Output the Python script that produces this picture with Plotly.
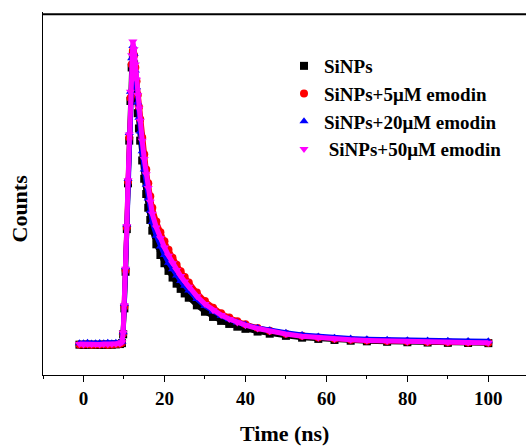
import plotly.graph_objects as go

time_ns = [-1, 0, 1, 2, 3, 4, 5, 6, 7, 8, 9, 9.5,
           9.8, 10.1, 10.4, 10.7, 11.0, 11.3, 11.6, 11.9,
           12.2, 12.5, 12.8, 13.1, 13.4, 13.7, 14.0,
           14.5, 15.0, 15.5, 16.0, 16.5, 17.0,
           18, 19, 20, 21, 22, 23, 24, 25, 26,
           28, 30, 32, 34, 36, 38, 40,
           43, 46, 50, 54, 58, 62, 66, 70,
           75, 80, 85, 90, 95, 100]

sinps = [10, 0, 15, 5, 10, 0, 15, 5, 10, 20, 30, 60,
         350, 1200, 2400, 3800, 5300, 6700, 8000, 9100,
         9500, 9200, 8650, 8100, 7600, 7100, 6700,
         6050, 5450, 4950, 4500, 4100, 3750,
         3300, 2950, 2680, 2430, 2210, 2010, 1840, 1690, 1550,
         1300, 1090, 920, 790, 690, 600, 530,
         440, 370, 300, 240, 200, 165, 140, 120,
         105, 90, 80, 70, 65, 60]

emodin_5 = [20, 15, 25, 10, 20, 15, 25, 10, 20, 30, 40, 70,
            380, 1250, 2450, 3850, 5350, 6800, 8100, 9200,
            9650, 9500, 9100, 8650, 8200, 7800, 7400,
            6800, 6250, 5750, 5300, 4880, 4500,
            4050, 3700, 3400, 3120, 2860, 2630, 2420, 2230, 2050,
            1720, 1440, 1220, 1040, 900, 780, 680,
            560, 470, 370, 300, 245, 205, 175, 150,
            130, 112, 100, 90, 82, 75]

emodin_20 = [60, 55, 70, 50, 60, 65, 55, 70, 60, 70, 80, 110,
             420, 1350, 2550, 3950, 5450, 6950, 8300, 9400,
             9800, 9550, 9000, 8450, 7950, 7450, 7000,
             6350, 5750, 5250, 4800, 4400, 4030,
             3580, 3230, 2950, 2700, 2480, 2280, 2100, 1940, 1790,
             1510, 1280, 1100, 960, 840, 740, 660,
             560, 480, 400, 330, 280, 240, 210, 190,
             170, 155, 145, 135, 130, 125]

emodin_50 = [30, 20, 35, 25, 30, 20, 35, 25, 30, 40, 50, 90,
             400, 1300, 2500, 3900, 5400, 6900, 8300, 9500,
             9950, 9700, 9200, 8700, 8200, 7750, 7350,
             6700, 6100, 5600, 5150, 4700, 4300,
             3850, 3500, 3200, 2930, 2680, 2460, 2260, 2080, 1910,
             1600, 1340, 1140, 980, 850, 740, 650,
             540, 450, 360, 290, 240, 200, 170, 150,
             130, 110, 100, 90, 80, 75]

series_names = ["SiNPs", "SiNPs+5μM emodin", "SiNPs+20μM emodin", "\u00a0SiNPs+50μM emodin"]
series_values = [sinps, emodin_5, emodin_20, emodin_50]
colors = ["#000000", "#ff0000", "#0000ff", "#ff00ff"]
symbols = ["square", "circle", "triangle-up", "triangle-down"]

x_ticks = [0, 20, 40, 60, 80, 100]

for s in series_values:
    assert len(s) == len(time_ns)

fig = go.Figure()
for name, vals, c, sym in zip(series_names, series_values, colors, symbols):
    fig.add_trace(go.Scatter(x=time_ns, y=vals, mode="lines",
                             line=dict(color=c, width=5), showlegend=False,
                             hoverinfo="skip"))
    fig.add_trace(go.Scatter(x=time_ns, y=vals, mode="markers", name=name,
                             marker=dict(color=c, symbol=sym, size=8),
                             legendgroup=name))

serif = "Liberation Serif, Times New Roman, serif"

fig.update_layout(
    width=526, height=448,
    margin=dict(l=43, r=0, t=12, b=73),
    paper_bgcolor="white", plot_bgcolor="white",
    font=dict(family=serif, color="black"),
    showlegend=True,
    legend=dict(x=(284 - 43) / 483, y=(375 - 47) / 363, xanchor="left", yanchor="top",
                font=dict(family=serif, size=19, weight="bold", color="black"),
                bgcolor="rgba(0,0,0,0)", tracegroupgap=0, traceorder="grouped"),
    xaxis=dict(range=[-10, 109.3], tickvals=x_ticks, ticks="outside", ticklen=6,
               tickwidth=1.3, tickcolor="black", showline=True, linecolor="black",
               linewidth=1.3, mirror=False, showgrid=False, zeroline=False,
               tickfont=dict(family=serif, size=19, weight="bold", color="black"),
               minor=dict(dtick=10, tick0=10, ticks="outside", ticklen=3,
                          tickwidth=1.3, tickcolor="black", showgrid=False)),
    yaxis=dict(range=[-984, 10918], showticklabels=False, ticks="", showline=True,
               linecolor="black", linewidth=1.3, showgrid=False, zeroline=False),
    shapes=[dict(type="line", xref="paper", yref="paper", x0=0, x1=1, y0=0.994, y1=0.994,
                 line=dict(color="black", width=2), layer="above")],
    annotations=[
        dict(text="Time (ns)", xref="paper", yref="paper", x=0.5, y=0,
             xanchor="center", yanchor="top", yshift=-44, showarrow=False,
             font=dict(family=serif, size=22, weight="bold", color="black")),
        dict(text="Counts", xref="paper", yref="paper", x=0, y=(375 - 209) / 363,
             xanchor="right", yanchor="middle", xshift=-10, textangle=-90,
             showarrow=False,
             font=dict(family=serif, size=22, weight="bold", color="black")),
    ],
)

fig.write_html("out.html", config={"displayModeBar": False},
               post_script="document.body.style.margin='0';")
